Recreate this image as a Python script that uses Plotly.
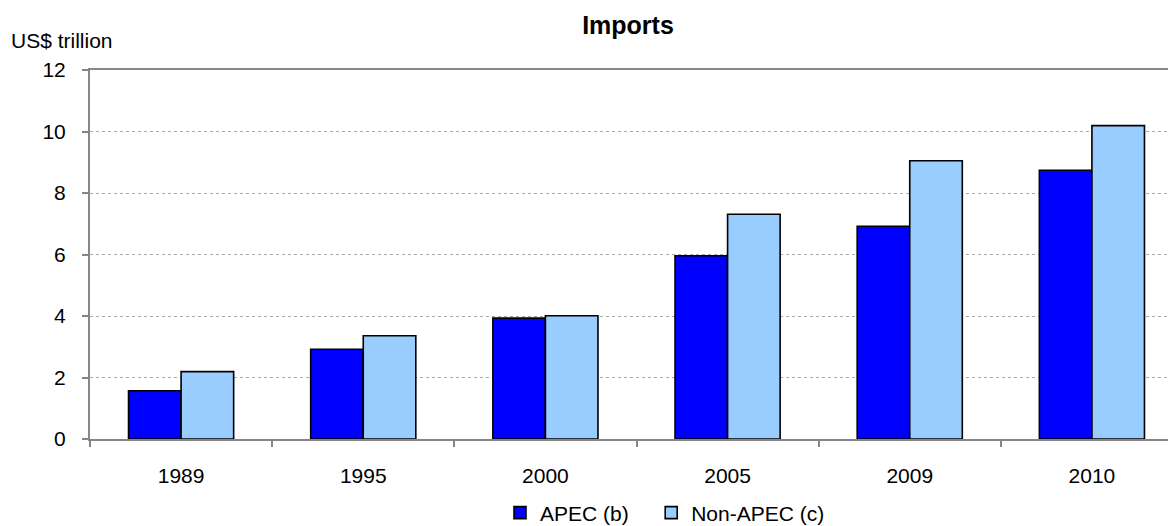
import plotly.graph_objects as go

years = ["1989", "1995", "2000", "2005", "2009", "2010"]
apec = [1.57, 2.92, 3.93, 5.96, 6.92, 8.74]
non_apec = [2.19, 3.36, 4.01, 7.31, 9.05, 10.19]
y_ticks = [0, 2, 4, 6, 8, 10, 12]

FONT = "Liberation Sans, Arial, sans-serif"
OFF = 8  # default page body margin
W, H = 1176, 526
ML, MR, MT = 90 - OFF, 1, 70 - OFF
PLOT_BOTTOM = 439 - OFF
MB = H - PLOT_BOTTOM
plot_w = W - ML - MR
plot_h = PLOT_BOTTOM - MT

fig = go.Figure()
fig.add_trace(go.Bar(x=years, y=apec, name="APEC (b)\u00a0\u00a0\u00a0",
                     marker=dict(color="#0000FF", line=dict(color="#000000", width=1.6))))
fig.add_trace(go.Bar(x=years, y=non_apec, name="Non-APEC (c)",
                     marker=dict(color="#99CCFF", line=dict(color="#000000", width=1.6))))

fig.update_layout(
    width=W, height=H,
    margin=dict(l=ML, r=MR, t=MT, b=MB, pad=0),
    paper_bgcolor="white", plot_bgcolor="white",
    font=dict(family=FONT, size=21, color="#000000"),
    barmode="group", bargap=0.423, bargroupgap=0,
    title=dict(text="<b>Imports</b>", font=dict(size=25, family=FONT, color="#000000"),
               xref="container", x=(628 - OFF) / W, xanchor="center",
               yref="container", y=1 - (25 - OFF) / H, yanchor="middle"),
    showlegend=True,
    legend=dict(orientation="h", xanchor="left", x=(500 - OFF - ML) / plot_w,
                yanchor="middle", y=(PLOT_BOTTOM - (513 - OFF)) / plot_h,
                font=dict(size=21, family=FONT), itemwidth=30,
                bgcolor="rgba(0,0,0,0)", traceorder="normal"),
)

fig.update_xaxes(
    type="category", range=[-0.5, 5.5],
    showline=True, linecolor="#868686", linewidth=2, mirror=True,
    ticks="outside", tickson="boundaries", ticklen=6, tickcolor="#868686", tickwidth=2,
    ticklabelstandoff=17, showgrid=False, zeroline=False,
    tickfont=dict(size=21, family=FONT, color="#000000"),
)
fig.update_yaxes(
    range=[0, 12], tickvals=y_ticks,
    showline=True, linecolor="#868686", linewidth=2,
    ticks="outside", ticklen=6, tickcolor="#868686", tickwidth=2,
    ticklabelstandoff=12,
    showgrid=True, gridcolor="#A8A8A8", gridwidth=1, griddash="dot",
    zeroline=False,
    tickfont=dict(size=21, family=FONT, color="#000000"),
)

fig.add_annotation(text="US$ trillion", xref="paper", yref="paper",
                   x=(9 - OFF - ML) / plot_w, xanchor="left",
                   y=(PLOT_BOTTOM - (41 - OFF)) / plot_h, yanchor="middle",
                   showarrow=False, font=dict(size=21, family=FONT, color="#000000"))

fig.write_html("out.html")
